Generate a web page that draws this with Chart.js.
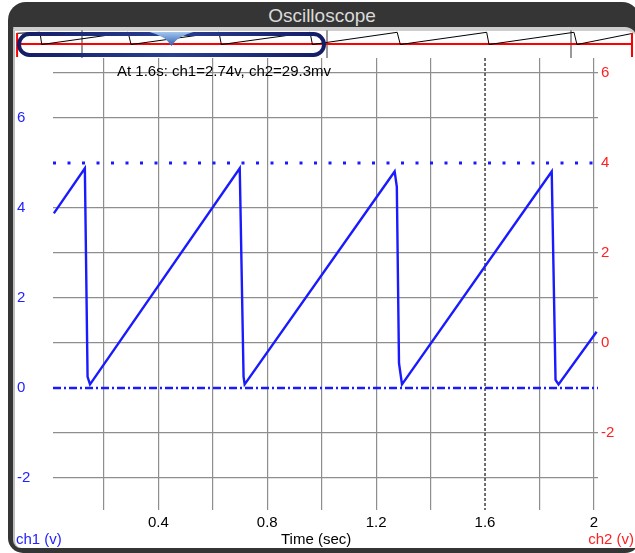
<!DOCTYPE html>
<html>
<head>
<meta charset="utf-8">
<script src="https://cdn.jsdelivr.net/npm/chart.js@4.4.1/dist/chart.umd.min.js"></script>
<style>
  html, body { margin: 0; padding: 0; background: #fff; }
  #page { position: relative; width: 635px; height: 553px; overflow: hidden; font-family: "Liberation Sans", Arial, sans-serif; }
  #frame { position: absolute; left: 8px; top: 2px; width: 632px; height: 551px; background: #353535; border-radius: 18px 18px 15px 15px; }
  #title { position: absolute; left: 8px; top: 2px; width: 628px; height: 26px; line-height: 28px; text-align: center; color: #dadada; font-size: 19px; }
  #inner { position: absolute; left: 13px; top: 27px; width: 624px; height: 521px; background: #fff; border-left: 2px solid #bdbdbd; border-top: 4px solid #cdcdcd; border-radius: 0 12px 0 8px; box-sizing: border-box; }
  canvas { position: absolute; }
  #main { left: 0; top: 0; }
  #overview { left: 15px; top: 30px; }
  .lbl { position: absolute; top: 530px; font-size: 15px; line-height: 18px; white-space: nowrap; }
</style>
</head>
<body>
<div id="page">
  <div id="frame"></div>
  <div id="title">Oscilloscope</div>
  <div id="inner"></div>
  <canvas id="main" width="635" height="553"></canvas>
  <canvas id="overview" width="618" height="28"></canvas>
  <div class="lbl" style="left:16px;color:#2222ff">ch1 (v)</div>
  <div class="lbl" style="left:281px;color:#000">Time (sec)</div>
  <div class="lbl" style="right:1px;color:#ff2020">ch2 (v)</div>
</div>
<script>
// ch1 trace (seconds, volts)
const ch1Times  = [0.016, 0.130, 0.140, 0.149, 0.699, 0.713, 0.717, 1.268, 1.276, 1.284, 1.295, 1.845, 1.859, 1.870, 2.010];
const ch1Values = [3.88, 4.88, 0.25, 0.08, 4.88, 0.25, 0.08, 4.81, 4.47, 0.55, 0.08, 4.81, 0.18, 0.08, 1.25];

// dotted / dash-dot level lines (ch1 volts)
const upperLevel = 5;
const lowerLevel = 0;

const cursorTime = 1.6;
const cursorText = 'At 1.6s: ch1=2.74v, ch2=29.3mv';

const xGridTicks = [0.2, 0.4, 0.6, 0.8, 1.0, 1.2, 1.4, 1.6, 1.8, 2.0];
const xTickLabels = [0.4, 0.8, 1.2, 1.6, 2];
const ch1TickLabels = [-2, 0, 2, 4, 6];
const ch2TickLabels = [-2, 0, 2, 4, 6];

// overview strip: longer record
const overviewTimes  = [-0.011, 0.135, 0.146, 0.696, 0.715, 1.275, 1.290, 1.855, 1.870, 2.410, 2.430, 2.980, 2.995, 3.536, 3.555, 3.912];
const overviewValues = [4.46, 4.85, 0.08, 4.85, 0.08, 4.85, 0.08, 4.85, 0.08, 4.85, 0.08, 4.85, 0.08, 4.85, 0.08, 4.46];
const overviewGrid = [0.4, 1.96, 3.52];
const ch2Times  = [-0.011, 3.912];
const ch2Values = [0.0293, 0.0293];

const xMin = 0.013, xMax = 2.015;
const ch1Min = -2.71, ch1Max = 7.33;
const ch2Min = -3.71, ch2Max = 6.33;

Chart.defaults.font.family = '"Liberation Sans", Arial, sans-serif';

const zip = (xs, ys) => xs.map((x, i) => ({x: x, y: ys[i]}));
const near = (a, b) => Math.abs(a - b) < 1e-6;
const gridGray = '#8e8e8e';

const cursorPlugin = {
  id: 'cursor',
  beforeDatasetsDraw(chart) {
    const ctx = chart.ctx, a = chart.chartArea;
    const px = chart.scales.x.getPixelForValue(cursorTime);
    ctx.save();
    ctx.strokeStyle = '#222';
    ctx.lineWidth = 1.3;
    ctx.setLineDash([3, 2]);
    ctx.beginPath();
    ctx.moveTo(px, a.top);
    ctx.lineTo(px, a.bottom);
    ctx.stroke();
    ctx.restore();
  },
  afterDraw(chart) {
    const ctx = chart.ctx;
    ctx.save();
    ctx.fillStyle = '#000';
    ctx.font = '15px "Liberation Sans", Arial, sans-serif';
    ctx.textBaseline = 'middle';
    ctx.fillText(cursorText, 117, 72);
    ctx.restore();
  }
};

new Chart(document.getElementById('main'), {
  type: 'line',
  data: {
    datasets: [
      {
        data: zip(ch1Times, ch1Values),
        borderColor: '#1a1aff', borderWidth: 2.4, pointRadius: 0, tension: 0, yAxisID: 'y'
      },
      {
        data: zip([xMin, xMax], [upperLevel, upperLevel]),
        borderColor: '#1a1aff', borderWidth: 3, borderDash: [3, 11.5], pointRadius: 0, yAxisID: 'y'
      },
      {
        data: zip([xMin, xMax], [lowerLevel, lowerLevel]),
        borderColor: '#1a1aff', borderWidth: 2.5, borderDash: [8, 3, 2, 3], pointRadius: 0, yAxisID: 'y'
      }
    ]
  },
  options: {
    animation: false,
    responsive: false,
    layout: { padding: { top: 58, left: 17, right: 0, bottom: 0 } },
    plugins: { legend: { display: false }, tooltip: { enabled: false } },
    scales: {
      x: {
        type: 'linear', min: xMin, max: xMax,
        afterFit: s => { s.height = 43; },
        afterBuildTicks: s => { s.ticks = xGridTicks.map(v => ({ value: v })); },
        border: { display: false },
        grid: {
          drawTicks: false, lineWidth: 1.2,
          color: c => near(c.tick.value, cursorTime) ? 'rgba(0,0,0,0)' : gridGray
        },
        ticks: {
          autoSkip: false, maxRotation: 0,
          padding: 4, color: '#000', font: { size: 15 },
          callback: v => xTickLabels.some(l => near(l, v)) ? String(Math.round(v * 10) / 10) : ''
        }
      },
      y: {
        position: 'left', min: ch1Min, max: ch1Max,
        afterFit: s => { s.width = 36; },
        border: { display: false },
        grid: {
          drawTicks: false, lineWidth: 1.2,
          color: c => (near(c.tick.value, upperLevel) || near(c.tick.value, lowerLevel)) ? 'rgba(0,0,0,0)' : gridGray
        },
        ticks: {
          stepSize: 1, includeBounds: false, autoSkip: false, crossAlign: 'far',
          color: '#2222ff', font: { size: 15 },
          callback: v => ch1TickLabels.some(l => near(l, v)) ? String(Math.round(v)) : ''
        }
      },
      y2: {
        position: 'right', min: ch2Min, max: ch2Max,
        afterFit: s => { s.width = 37; },
        border: { display: false },
        grid: { display: false, drawTicks: false },
        ticks: {
          stepSize: 1, includeBounds: false, autoSkip: false, padding: 3,
          color: '#ff2020', font: { size: 15 },
          callback: v => ch2TickLabels.some(l => near(l, v)) ? String(Math.round(v)) : ''
        }
      }
    }
  },
  plugins: [cursorPlugin]
});

const overviewPlugin = {
  id: 'overviewChrome',
  afterDraw(chart) {
    const ctx = chart.ctx, a = chart.chartArea;
    const xs = chart.scales.x;
    ctx.save();
    // red end markers of the ch2 record
    ctx.strokeStyle = '#ff0000';
    ctx.lineWidth = 2;
    [ch2Times[0], ch2Times[ch2Times.length - 1]].forEach(t => {
      const px = Math.min(Math.max(xs.getPixelForValue(t), a.left + 1), a.right - 1);
      ctx.beginPath();
      ctx.moveTo(px, 3);
      ctx.lineTo(px, 27);
      ctx.stroke();
    });
    // selection window
    const l = 4, r = 309, t = 4, b = 25, rad = (b - t) / 2;
    const g = ctx.createLinearGradient(l, 0, r, 0);
    g.addColorStop(0, '#141c66');
    g.addColorStop(0.5, '#2a3f92');
    g.addColorStop(1, '#141c66');
    ctx.strokeStyle = g;
    ctx.lineWidth = 4;
    ctx.beginPath();
    ctx.moveTo(l + rad, t);
    ctx.lineTo(r - rad, t);
    ctx.arc(r - rad, t + rad, rad, -Math.PI / 2, Math.PI / 2);
    ctx.lineTo(l + rad, b);
    ctx.arc(l + rad, t + rad, rad, Math.PI / 2, Math.PI * 1.5);
    ctx.closePath();
    ctx.stroke();
    // handle marker
    const cx = (l + r) / 2;
    const tg = ctx.createLinearGradient(0, 2, 0, 16);
    tg.addColorStop(0, '#a4c6ee');
    tg.addColorStop(1, '#2a5fb2');
    ctx.fillStyle = tg;
    ctx.beginPath();
    ctx.moveTo(cx - 22, 2);
    ctx.lineTo(cx + 22, 2);
    ctx.quadraticCurveTo(cx + 6, 6, cx, 16);
    ctx.quadraticCurveTo(cx - 6, 6, cx - 22, 2);
    ctx.closePath();
    ctx.fill();
    ctx.restore();
  }
};

new Chart(document.getElementById('overview'), {
  type: 'line',
  data: {
    datasets: [
      { data: zip(overviewTimes, overviewValues), borderColor: '#000', borderWidth: 1, pointRadius: 0, yAxisID: 'y' },
      { data: zip(ch2Times, ch2Values), borderColor: '#ff0000', borderWidth: 2, pointRadius: 0, yAxisID: 'y2' }
    ]
  },
  options: {
    animation: false,
    responsive: false,
    layout: { padding: 0 },
    plugins: { legend: { display: false }, tooltip: { enabled: false } },
    scales: {
      x: {
        type: 'linear', min: -0.0242, max: 3.912,
        afterFit: s => { s.height = 0; },
        afterBuildTicks: s => { s.ticks = overviewGrid.map(v => ({ value: v })); },
        border: { display: false },
        grid: { color: '#9a9a9a', lineWidth: 2, drawTicks: false },
        ticks: { display: false }
      },
      y: { display: false, min: -5.19, max: 5.75 },
      y2: { display: false, min: -0.95, max: 1.0 }
    }
  },
  plugins: [overviewPlugin]
});
</script>
</body>
</html>
